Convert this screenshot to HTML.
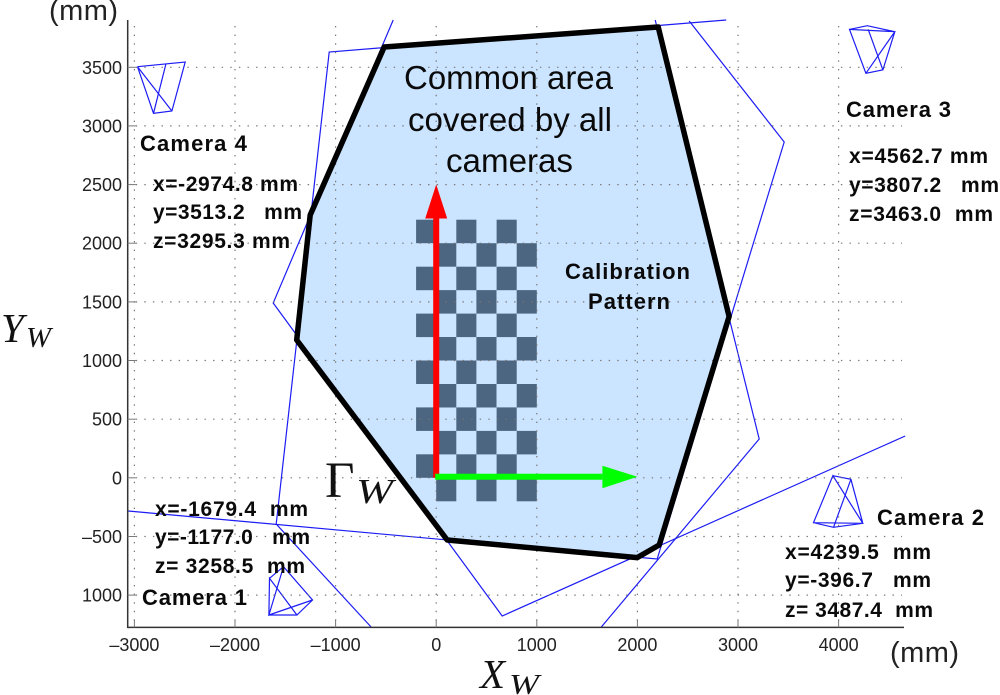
<!DOCTYPE html>
<html lang="en">
<head>
<meta charset="utf-8">
<title>Common area covered by all cameras</title>
<style>
html,body{margin:0;padding:0;background:#fff;width:1000px;height:695px;overflow:hidden}
svg{display:block;position:absolute;left:0;top:0;filter:blur(0.35px)}
text{font-family:"Liberation Sans",sans-serif;fill:#111;white-space:pre}
.lab{font-weight:bold;font-size:21px;fill:#0a0a0a}
.cam{font-weight:bold;font-size:22px;fill:#0a0a0a}
.tick{font-size:18px;fill:#222}
.big{font-size:33px;fill:#0a0a0a}
.unit{font-size:29px;fill:#222}
.math{font-family:"Liberation Serif",serif;font-style:italic;fill:#111}
</style>
</head>
<body>
<svg id="chart" width="1000" height="695" viewBox="0 0 1000 695" xmlns="http://www.w3.org/2000/svg">
  <defs>
    <clipPath id="plot-clip"><rect x="127" y="18" width="800" height="609.5"/></clipPath>
  </defs>
  <g id="blue-layer" clip-path="url(#plot-clip)"></g>
  <g id="cam-layer"></g>
  <polygon id="area" fill="#cbe4ff" stroke="none"></polygon>
  <g id="board"></g>
  <g id="grid"></g>
  <g id="area-outline"></g>
  <g id="axes"></g>
  <g id="arrows"></g>

  <g>
    <text class="big" x="404" y="89" textLength="209" lengthAdjust="spacingAndGlyphs">Common area</text>
    <text class="big" x="408" y="131" textLength="204" lengthAdjust="spacingAndGlyphs">covered by all</text>
    <text class="big" x="446" y="172" textLength="127" lengthAdjust="spacingAndGlyphs">cameras</text>
  </g>
  <g>
    <text class="cam" x="565" y="279" textLength="125" lengthAdjust="spacing">Calibration</text>
    <text class="cam" x="588" y="309" textLength="82" lengthAdjust="spacing">Pattern</text>
  </g>

  <g>
    <text class="cam" x="140" y="151" textLength="107" lengthAdjust="spacing">Camera 4</text>
    <text class="lab" x="153" y="191" textLength="145" lengthAdjust="spacing">x=-2974.8 mm</text>
    <text class="lab" x="153" y="219" textLength="149" lengthAdjust="spacing">y=3513.2   mm</text>
    <text class="lab" x="153" y="248" textLength="137" lengthAdjust="spacing">z=3295.3 mm</text>
  </g>
  <g>
    <text class="cam" x="846" y="117" textLength="105" lengthAdjust="spacing">Camera 3</text>
    <text class="lab" x="849" y="163" textLength="139" lengthAdjust="spacing">x=4562.7 mm</text>
    <text class="lab" x="849" y="192" textLength="150" lengthAdjust="spacing">y=3807.2   mm</text>
    <text class="lab" x="849" y="221" textLength="144" lengthAdjust="spacing">z=3463.0  mm</text>
  </g>
  <g>
    <text class="cam" x="877" y="525" textLength="107" lengthAdjust="spacing">Camera 2</text>
    <text class="lab" x="785" y="559" textLength="146" lengthAdjust="spacing">x=4239.5  mm</text>
    <text class="lab" x="785" y="587" textLength="146" lengthAdjust="spacing">y=-396.7   mm</text>
    <text class="lab" x="785" y="617" textLength="148" lengthAdjust="spacing">z= 3487.4  mm</text>
  </g>
  <g>
    <text class="cam" x="142" y="605" textLength="105" lengthAdjust="spacing">Camera 1</text>
    <text class="lab" x="155" y="516" textLength="153" lengthAdjust="spacing">x=-1679.4  mm</text>
    <text class="lab" x="155" y="544" textLength="155" lengthAdjust="spacing">y=-1177.0   mm</text>
    <text class="lab" x="155" y="573" textLength="150" lengthAdjust="spacing">z= 3258.5  mm</text>
  </g>

  <text class="unit" x="49" y="20" textLength="69" lengthAdjust="spacing">(mm)</text>
  <text class="unit" x="890" y="662" textLength="69" lengthAdjust="spacing">(mm)</text>

  <g>
    <text class="math" x="1" y="342" font-size="41">Y</text>
    <text class="math" x="26" y="347" font-size="29" textLength="25" lengthAdjust="spacingAndGlyphs">W</text>
  </g>
  <g>
    <text class="math" x="509" y="694" font-size="29" textLength="30" lengthAdjust="spacingAndGlyphs">W</text>
    <text class="math" x="480" y="688" font-size="41">X</text>
  </g>
  <g>
    <text x="325" y="497" font-size="51" style="font-family:'Liberation Serif',serif">Γ</text>
    <text class="math" x="356" y="503" font-size="35" textLength="37" lengthAdjust="spacingAndGlyphs">W</text>
  </g>
</svg>
<script>
// Axis ticks (mm)
const xTicks = [-3000, -2000, -1000, 0, 1000, 2000, 3000, 4000];
const xTickLabels = ['–3000', '–2000', '–1000', '0', '1000', '2000', '3000', '4000'];
const yTicks = [3500, 3000, 2500, 2000, 1500, 1000, 500, 0, -500, -1000];
const yTickLabels = ['3500', '3000', '2500', '2000', '1500', '1000', '500', '0', '–500', '1000'];

// Common coverage polygon (mm)
const areaX = [-517, 2207, 2912, 2217, 1998, 109, -1387, -1252];
const areaY = [3673, 3843, 1375, -573, -680, -530, 1175, 2240];

// Camera field-of-view outlines (mm)
const view4X = [-427, -1620, 656, 4662];
const view4Y = [3903, 1490, -1178, 356];
const view3X = [2883, -1064, -1590, -646];
const view3Y = [3903, 3630, -394, -1273];
const view3bX = [2515, 3459, 2197, -3062];
const view3bY = [3894, 2863, -692, -283];
const view2X = [2177, 3211, 1640];
const view2Y = [3903, 331, -1273];

// Camera frustum wireframes (mm), drawn as continuous strokes
const cam4X = [-2969, -2495, -2627, -2810, -2969, -2627];
const cam4Y = [3505, 3545, 3127, 3107, 3505, 3127];
const cam4bX = [-2687, -2810];
const cam4bY = [3528, 3107];
const cam3X = [4108, 4284, 4559, 4440, 4271, 4108, 4559, 4271];
const cam3Y = [3823, 3854, 3803, 3477, 3448, 3823, 3803, 3448];
const cam3bX = [4294, 4440];
const cam3bY = [3823, 3477];
const cam2X = [3943, 4122, 4241, 3750, 3943, 4241, 3949, 3750];
const cam2Y = [18, -13, -388, -383, 18, -388, -422, -383];
const cam2bX = [4122, 3949];
const cam2bY = [-13, -422];
const cam1X = [-1657, -1518, -1230, -1385, -1663, -1657, -1385];
const cam1Y = [-857, -758, -1042, -1170, -1170, -857, -1170];
const cam1bX = [-1518, -1663, -1230];
const cam1bY = [-758, -1170, -1042];

// Checkerboard extents (mm)
const boardCols = [-200, 0, 200, 400, 600, 800];
const boardRows = [2200, 2000, 1800, 1600, 1400, 1200, 1000, 800, 600, 400, 200, 0];
const boardCell = 200;

// World axes arrows (mm)
const originX = 0;
const originY = 0;
const yArrowTip = 2500;
const xArrowTip = 2000;

const sx = v => 436.2 + 0.1006 * v;
const sy = v => 477.8 - 0.1173 * v;
const NS = 'http://www.w3.org/2000/svg';
function mk(tag, parent, attrs) {
  const el = document.createElementNS(NS, tag);
  for (const k in attrs) el.setAttribute(k, attrs[k]);
  parent.appendChild(el);
  return el;
}
const pts = (xs, ys) => xs.map((x, i) => sx(x).toFixed(1) + ',' + sy(ys[i]).toFixed(1)).join(' ');

const axisLeft = 127.7, axisBottom = 627.4, axisTop = 20, axisRight = 904, gridRight = 902;

// field-of-view lines
const blueLayer = document.getElementById('blue-layer');
[[view4X, view4Y, 'view-camera-4'], [view3X, view3Y, 'view-camera-3-left'], [view3bX, view3bY, 'view-camera-3-right'], [view2X, view2Y, 'view-camera-2']].forEach(s => {
  const p = mk('polyline', blueLayer, {points: pts(s[0], s[1]), fill: 'none', stroke: '#1c1cf5', 'stroke-width': 1.2});
  
  
});

// frustums
const camLayer = document.getElementById('cam-layer');
[[cam4X, cam4Y, 'frustum-camera-4'], [cam4bX, cam4bY, 'frustum-camera-4-edge'], [cam3X, cam3Y, 'frustum-camera-3'], [cam3bX, cam3bY, 'frustum-camera-3-edge'], [cam2X, cam2Y, 'frustum-camera-2'], [cam2bX, cam2bY, 'frustum-camera-2-edge'], [cam1X, cam1Y, 'frustum-camera-1'], [cam1bX, cam1bY, 'frustum-camera-1-edge']].forEach(s => {
  const p = mk('polyline', camLayer, {points: pts(s[0], s[1]), fill: 'none', stroke: '#1c1cf5', 'stroke-width': 1.2});
  
  
});

// area fill
document.getElementById('area').setAttribute('points', pts(areaX, areaY));

// checkerboard
const board = document.getElementById('board');
boardRows.forEach((ry, r) => {
  boardCols.forEach((cx, c) => {
    if ((r + c) % 2 === 0) {
      const rect = mk('rect', board, {
        x: sx(cx).toFixed(1),
        y: sy(ry).toFixed(1),
        width: (sx(cx + boardCell) - sx(cx)).toFixed(1),
        height: (sy(ry - boardCell) - sy(ry)).toFixed(1),
        fill: '#4c6580'
      });
      
      
    }
  });
});

// grid
const grid = document.getElementById('grid');
yTicks.forEach(v => {
  const l = mk('line', grid, {x1: axisLeft + 8, x2: gridRight, y1: sy(v).toFixed(1), y2: sy(v).toFixed(1), stroke: '#777', 'stroke-width': 1.2, 'stroke-dasharray': '1.4 7.2'});
  
  
});
xTicks.forEach(v => {
  const l = mk('line', grid, {x1: sx(v).toFixed(1), x2: sx(v).toFixed(1), y1: axisTop + 6, y2: axisBottom - 6, stroke: '#777', 'stroke-width': 1.2, 'stroke-dasharray': '1.4 7.2'});
  
  
});

// area outline above grid
const outline = mk('polygon', document.getElementById('area-outline'), {points: pts(areaX, areaY), fill: 'none', stroke: '#000', 'stroke-width': 5.5, 'stroke-linejoin': 'round'});



// axes
const axes = document.getElementById('axes');
const yLine = mk('line', axes, {x1: axisLeft, x2: axisLeft, y1: axisTop, y2: axisBottom + 0.7, stroke: '#333', 'stroke-width': 1.5});


const xLine = mk('line', axes, {x1: axisLeft, x2: axisRight, y1: axisBottom, y2: axisBottom, stroke: '#333', 'stroke-width': 1.5});


yTicks.forEach((v, i) => {
  const t = mk('line', axes, {x1: axisLeft, x2: axisLeft + 8, y1: sy(v).toFixed(1), y2: sy(v).toFixed(1), stroke: '#777', 'stroke-width': 1});
  
  
  const lb = mk('text', axes, {class: 'tick', x: 122, y: (sy(v) + 6.5).toFixed(1), 'text-anchor': 'end'});
  
  
  lb.textContent = yTickLabels[i];
});
xTicks.forEach((v, i) => {
  const t = mk('line', axes, {x1: sx(v).toFixed(1), x2: sx(v).toFixed(1), y1: axisBottom, y2: axisBottom - 8, stroke: '#777', 'stroke-width': 1});
  
  
  const lb = mk('text', axes, {class: 'tick', x: sx(v).toFixed(1), y: 651, 'text-anchor': 'middle'});
  
  
  lb.textContent = xTickLabels[i];
});

// arrows
const arrows = document.getElementById('arrows');
const ox = sx(originX), oy = sy(originY);
const yTipPx = sy(yArrowTip);
const redShaft = mk('line', arrows, {x1: ox, x2: ox, y1: oy, y2: yTipPx + 34, stroke: '#ff0000', 'stroke-width': 6});


const redHead = mk('polygon', arrows, {points: [ox - 11, yTipPx + 34, ox + 11, yTipPx + 34, ox, yTipPx].join(' '), fill: '#ff0000'});


const xTipPx = sx(xArrowTip);
const greenShaft = mk('line', arrows, {x1: ox - 1, x2: xTipPx - 35, y1: oy - 1, y2: oy - 1, stroke: '#00ff00', 'stroke-width': 6});


const greenHead = mk('polygon', arrows, {points: [xTipPx - 35, oy - 12, xTipPx - 35, oy + 10.5, xTipPx, oy - 1].join(' '), fill: '#00ff00'});


</script>
</body>
</html>
